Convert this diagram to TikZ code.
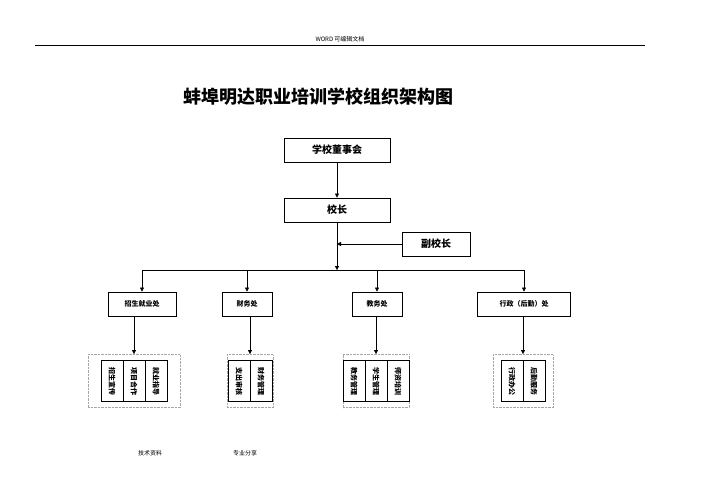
\documentclass[tikz,border=0pt]{standalone}
\usepackage{fontspec}
\setmainfont{Liberation Serif}
\newfontfamily\cjk{Noto Sans CJK SC}
\usetikzlibrary{arrows.meta,positioning}
\tikzset{
  box/.style={draw,thick,minimum height=24pt,font=\cjk\bfseries\fontsize{10}{12}\selectfont},
  dept/.style={draw,thick,minimum height=24pt,font=\cjk\bfseries\fontsize{7}{8}\selectfont},
  cell/.style={draw,minimum width=22pt,minimum height=41pt,inner sep=0pt},
  grp/.style={draw,densely dotted,gray!70},
  vtext/.style={rotate=-90,font=\cjk\bfseries\fontsize{7}{8}\selectfont},
  arr/.style={-{Triangle[length=4pt,width=4pt]}}
}
\begin{document}
\begin{tikzpicture}[x=1pt,y=-1pt]
\useasboundingbox (0,0) rectangle (707,500);
% header and footer
\draw (35,45) -- (645,45);
\node[font=\cjk\fontsize{6}{7}\selectfont] (hdr) at (340,39) {WORD 可编辑文档};
\node[font=\cjk\bfseries\fontsize{18}{21}\selectfont] (title) at (318,97) {蚌埠明达职业培训学校组织架构图};
\node[font=\cjk\fontsize{6}{7}\selectfont] (f1) at (150,453) {技术资料};
\node[font=\cjk\fontsize{6}{7}\selectfont] (f2) at (245,453) {专业分享};
% top levels
\node[box,minimum width=106pt] (board) at (337,150) {学校董事会};
\node[box,minimum width=106pt] (head) at (337,210) {校长};
\node[box,minimum width=68pt] (vice) at (436,244) {副校长};
\draw[arr] (board) -- (head);
\coordinate (bus) at (337,270);
\draw[arr] (head) -- (bus);
\draw[arr] (vice.west) -- (337,244);
% departments
\node[dept,minimum width=68pt] (d1) at (142,304) {招生就业处};
\node[dept,minimum width=50pt] (d2) at (247,304) {财务处};
\node[dept,minimum width=50pt] (d3) at (377,304) {教务处};
\node[dept,minimum width=93pt] (d4) at (524,304) {行政（后勤）处};
\draw (d1.north |- bus) -- (d4.north |- bus);
\foreach \d in {d1,d2,d3,d4} \draw[arr] (\d.north |- bus) -- (\d.north);
% sub groups
\coordinate (gtop) at (0,354);
\foreach \n/\x/\w in {g1/134/92,g2/250/46,g3/376/66,g4/523/60}
  \node[grp,minimum width=\w pt,minimum height=53pt] (\n) at (\x,381) {};
% cells
\foreach \x/\t in {112/招生宣传,134/项目合作,156/就业指导,239/支出审核,261/财务管理,354/教务管理,376/学生管理,398/师资培训,512/行政办公,534/后勤服务} {
  \node[cell] (c\x) at (\x,381) {};
  \node[vtext] (t\x) at (c\x) {\t};
}
\foreach \d/\g in {d1/g1,d2/g2,d3/g3,d4/g4}
  \draw[arr] (\g |- \d.south) -- (\g |- gtop);
\end{tikzpicture}
\end{document}
